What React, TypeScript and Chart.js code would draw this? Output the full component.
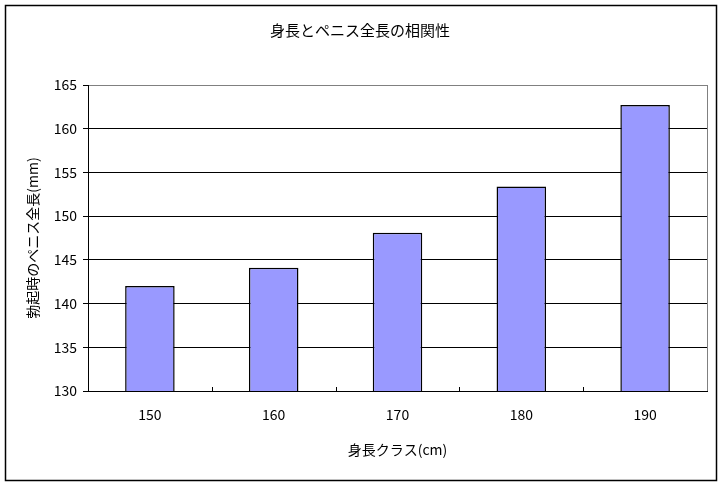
import React, { useEffect, useRef } from "react";
import { Chart, registerables } from "chart.js";

Chart.register(...registerables);

const chartTitle = "身長とペニス全長の相関性";
const xTitle = "身長クラス(cm)";
const yTitle = "勃起時のペニス全長(mm)";
const categories = ["150", "160", "170", "180", "190"];
const penisLength = [142.0, 144.1, 148.1, 153.4, 162.7];
const yMin = 130;
const yMax = 165;
const yStep = 5;

const FONT = "'Noto Sans CJK JP', 'Noto Sans', sans-serif";

const decorPlugin = {
  id: "decor",
  beforeDraw(chart: any) {
    const { ctx, width, height } = chart;
    ctx.save();
    ctx.fillStyle = "#fff";
    ctx.fillRect(0, 0, width, height);
    ctx.restore();
  },
  afterDraw(chart: any) {
    const { ctx, chartArea, width } = chart;
    const xs = chart.scales.x;
    ctx.save();
    // outer frame
    ctx.strokeStyle = "#000";
    ctx.lineWidth = 1.5;
    ctx.strokeRect(5.5, 5.5, width - 14, 475);
    // right plot border (gray)
    ctx.strokeStyle = "#808080";
    ctx.lineWidth = 1;
    ctx.beginPath();
    ctx.moveTo(Math.round(chartArea.right) + 0.5, chartArea.top);
    ctx.lineTo(Math.round(chartArea.right) + 0.5, chartArea.bottom);
    ctx.stroke();
    // inside tick marks between categories
    ctx.strokeStyle = "#000";
    ctx.beginPath();
    for (let i = 0; i < categories.length - 1; i++) {
      const x = Math.round((xs.getPixelForValue(i) + xs.getPixelForValue(i + 1)) / 2) + 0.5;
      ctx.moveTo(x, chartArea.bottom);
      ctx.lineTo(x, chartArea.bottom - 4);
    }
    ctx.stroke();
    // title
    ctx.fillStyle = "#000";
    ctx.font = `15px ${FONT}`;
    ctx.textAlign = "center";
    ctx.textBaseline = "middle";
    ctx.fillText(chartTitle, 360, 30);
    ctx.restore();
  },
};

export default function App() {
  const ref = useRef<HTMLCanvasElement | null>(null);

  useEffect(() => {
    if (!ref.current) return;
    const chart = new Chart(ref.current, {
      type: "bar",
      data: {
        labels: categories,
        datasets: [
          {
            data: penisLength,
            backgroundColor: "#9999FF",
            borderColor: "#000",
            borderWidth: 1.5,
            categoryPercentage: 1,
            barPercentage: 0.4,
          },
        ],
      },
      options: {
        animation: false,
        responsive: false,
        devicePixelRatio: 1,
        layout: { padding: { top: 85, right: 18, left: 0, bottom: 0 } },
        plugins: {
          legend: { display: false },
          title: { display: false },
          tooltip: { enabled: false },
        },
        scales: {
          x: {
            grid: { display: false },
            border: { display: true, color: "#000", width: 1 },
            ticks: { color: "#000", font: { family: FONT, size: 14 }, padding: 7 },
            title: {
              display: true,
              text: xTitle,
              color: "#000",
              font: { family: FONT, size: 14 },
              padding: { top: 0, bottom: 28.6 },
            },
            afterFit(scale: any) {
              scale.height = 96;
            },
          },
          y: {
            min: yMin,
            max: yMax,
            ticks: {
              stepSize: yStep,
              color: "#000",
              font: { family: FONT, size: 14 },
              padding: 6,
            },
            grid: {
              color: (c: any) => (c.tick && c.tick.value === yMax ? "#808080" : "#000"),
              tickColor: "#000",
              tickLength: 5,
              lineWidth: 1,
            },
            border: { display: true, color: "#000", width: 1 },
            title: {
              display: true,
              text: yTitle,
              color: "#000",
              font: { family: FONT, size: 14 },
              padding: { top: 24.6, bottom: 0 },
            },
            afterFit(scale: any) {
              scale.width = 88;
            },
          },
        },
      },
      plugins: [decorPlugin],
    });
    return () => chart.destroy();
  }, []);

  return (
    <div style={{ position: "fixed", left: 0, top: 0, width: 725, height: 487 }}>
      <canvas ref={ref} width={725} height={487} />
    </div>
  );
}
